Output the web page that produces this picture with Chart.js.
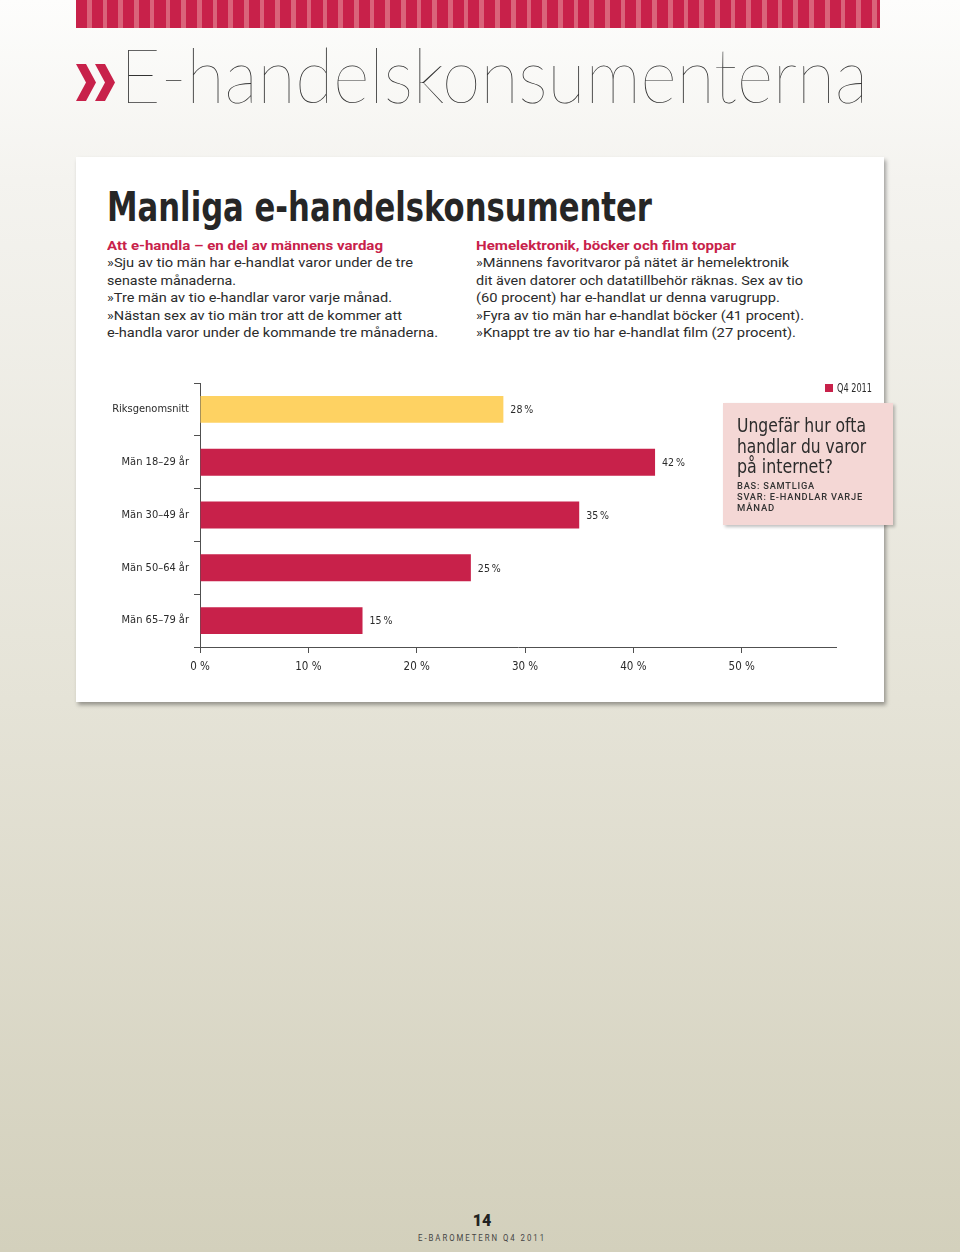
<!DOCTYPE html>
<html lang="sv">
<head>
<meta charset="utf-8">
<title>E-handelskonsumenterna</title>
<script src="https://cdn.jsdelivr.net/npm/chart.js@4.4.1/dist/chart.umd.min.js"></script>
<style>
html, body { margin: 0; padding: 0; }
body {
    width: 960px; height: 1252px; position: relative; overflow: hidden;
    background: linear-gradient(to bottom, #fdfdfc 0px, #f4f3ef 180px, #e5e3d7 700px, #d3d0bc 1252px);
    font-family: Roboto, 'Noto Sans', sans-serif; color: #2b2b2b;
}
.stripes {
    position: absolute; left: 76px; top: 0; width: 804px; height: 28px;
    background: repeating-linear-gradient(90deg, #c8214a 0 11px, #da637a 11px 15.7px);
}
.chev { position: absolute; left: 76px; top: 64px; }
.fit { display: inline-block; white-space: nowrap; transform-origin: 0 50%; }
.title {
    position: absolute; left: 120px; top: 35px;
    font-family: Lato, Roboto, sans-serif; font-weight: 100; font-size: 77px; line-height: 1;
    color: #333;
}
.card {
    position: absolute; left: 76px; top: 157px; width: 808px; height: 545px;
    background: #fff; box-shadow: 2px 3px 4px rgba(0,0,0,0.35);
}
.heading {
    position: absolute; left: 107px; top: 187px;
    font-family: 'Liberation Sans Narrow', 'DejaVu Sans Condensed', Roboto, sans-serif;
    font-weight: bold; font-size: 41px; line-height: 1; color: #262626;
}
.col { position: absolute; top: 237px; font-size: 13px; line-height: 17.4px; }
.col div { height: 17.4px; }
.col .sub { color: #c8214a; font-weight: bold; }
.legend { position: absolute; left: 825px; top: 383px; font-size: 12px; line-height: 11px;
    font-family: 'Liberation Sans Narrow', 'DejaVu Sans Condensed', Roboto, sans-serif; }
.legend i { position: absolute; left: 0; top: 1px; width: 8px; height: 8px; background: #c8214a; }
.legend span { position: absolute; left: 12px; top: 0; }
.chart-box { position: absolute; left: 100px; top: 370px; width: 780px; height: 320px; }
.pink {
    position: absolute; left: 723px; top: 403px; width: 170px; height: 122px;
    background: #f4d7d5; box-shadow: 2px 2px 3px rgba(0,0,0,0.25);
    box-sizing: border-box; padding: 12px 0 0 14px;
}
.pink .q { font-family: 'Liberation Sans Narrow', 'DejaVu Sans Condensed', Roboto, sans-serif;
    font-size: 20px; line-height: 20.5px; height: 20.5px; color: #2b2b2b; }
.pink .s { font-size: 9.5px; line-height: 11px; height: 11px; letter-spacing: 0.8px; font-weight: 500; color: #333; }
.pink .gap { height: 3px; }
.foot { position: absolute; left: 0; width: 964px; text-align: center; }
.foot .fit { transform-origin: 50% 50%; }
.page-no { top: 1211px; font-size: 16px; font-weight: 900; line-height: 20px; color: #222; }
.mag { top: 1232px; font-size: 9.5px; letter-spacing: 2.4px; line-height: 12px; color: #444; }
</style>
</head>
<body>
<div class="stripes"></div>
<svg class="chev" width="40" height="38" viewBox="0 0 40 38">
    <polygon points="0,0 10,0 20,18.5 10,37 0,37 10,18.5" fill="#c8214a"/>
    <polygon points="19,0 29,0 39,18.5 29,37 19,37 29,18.5" fill="#c8214a"/>
</svg>
<div class="title"><span class="fit" data-fit="748">E-handelskonsumenterna</span></div>

<div class="card"></div>
<div class="heading"><span class="fit" data-fit="545">Manliga e-handelskonsumenter</span></div>

<div class="col" style="left:107px">
    <div class="sub"><span class="fit" data-fit="276">Att e-handla – en del av männens vardag</span></div>
    <div><span class="fit" data-fit="306">»Sju av tio män har e-handlat varor under de tre</span></div>
    <div><span class="fit" data-fit="129">senaste månaderna.</span></div>
    <div><span class="fit" data-fit="285">»Tre män av tio e-handlar varor varje månad.</span></div>
    <div><span class="fit" data-fit="295">»Nästan sex av tio män tror att de kommer att</span></div>
    <div><span class="fit" data-fit="331">e-handla varor under de kommande tre månaderna.</span></div>
</div>
<div class="col" style="left:476px">
    <div class="sub"><span class="fit" data-fit="260">Hemelektronik, böcker och film toppar</span></div>
    <div><span class="fit" data-fit="313">»Männens favoritvaror på nätet är hemelektronik</span></div>
    <div><span class="fit" data-fit="327">dit även datorer och datatillbehör räknas. Sex av tio</span></div>
    <div><span class="fit" data-fit="304">(60 procent) har e-handlat ur denna varugrupp.</span></div>
    <div><span class="fit" data-fit="328">»Fyra av tio män har e-handlat böcker (41 procent).</span></div>
    <div><span class="fit" data-fit="320">»Knappt tre av tio har e-handlat film (27 procent).</span></div>
</div>

<div class="chart-box"><canvas id="chart"></canvas></div>
<div class="legend"><i></i><span class="fit" data-fit="35">Q4 2011</span></div>

<div class="pink">
    <div class="q"><span class="fit" data-fit="129">Ungefär hur ofta</span></div>
    <div class="q"><span class="fit" data-fit="129">handlar du varor</span></div>
    <div class="q"><span class="fit" data-fit="96">på internet?</span></div>
    <div class="gap"></div>
    <div class="s"><span class="fit" data-fit="78">BAS: SAMTLIGA</span></div>
    <div class="s"><span class="fit" data-fit="126">SVAR: E-HANDLAR VARJE</span></div>
    <div class="s"><span class="fit" data-fit="38">MÅNAD</span></div>
</div>

<div class="foot page-no">14</div>
<div class="foot mag"><span class="fit" data-fit="128">E-BAROMETERN Q4 2011</span></div>

<script>
// === Data ===
const categories = ['Riksgenomsnitt', 'Män 18–29 år', 'Män 30–49 år', 'Män 50–64 år', 'Män 65–79 år'];
const q4Values = [28, 42, 35, 25, 15];
const xTickValues = [0, 10, 20, 30, 40, 50];
const xTickLabels = ['0 %', '10 %', '20 %', '30 %', '40 %', '50 %'];

const RED = '#c8214a';
const YELLOW = '#fed262';
const AXIS = '#505050';
const FONT = "'Liberation Sans Narrow', 'DejaVu Sans Condensed', 'Roboto Condensed', Roboto, sans-serif";

// squeeze text lines to the widths of the original print
document.querySelectorAll('.fit').forEach(el => {
    const w = el.getBoundingClientRect().width;
    el.style.transform = `scaleX(${el.dataset.fit / w})`;
});

Chart.defaults.font.family = FONT;
Chart.defaults.color = '#2b2b2b';

// "28 %" etc. at the end of each bar
const valueLabels = {
    id: 'valueLabels',
    afterDatasetsDraw(chart) {
        const ctx = chart.ctx;
        const meta = chart.getDatasetMeta(0);
        ctx.save();
        ctx.font = `10.5px ${FONT}`;
        ctx.fillStyle = '#2b2b2b';
        ctx.textBaseline = 'middle';
        meta.data.forEach((bar, i) => {
            ctx.fillText(q4Values[i] + '\u2009%', bar.x + 7, bar.y + 1);
        });
        ctx.restore();
    }
};

new Chart(document.getElementById('chart'), {
    type: 'bar',
    data: {
        labels: categories,
        datasets: [{
            label: 'Q4 2011',
            data: q4Values,
            backgroundColor: c => c.dataIndex === 0 ? YELLOW : RED,
            barPercentage: 0.51,
            categoryPercentage: 1
        }]
    },
    options: {
        indexAxis: 'y',
        responsive: true,
        maintainAspectRatio: false,
        animation: false,
        layout: { padding: { top: 13, right: 44, left: 0, bottom: 0 } },
        plugins: { legend: { display: false }, tooltip: { enabled: false } },
        scales: {
            x: {
                min: 0,
                max: 58.7,
                afterFit: s => { s.height = 43; },
                ticks: {
                    stepSize: 10,
                    includeBounds: false,
                    maxRotation: 0,
                    padding: 7,
                    font: { size: 11.5 },
                    callback: v => xTickLabels[xTickValues.indexOf(v)] ?? ''
                },
                grid: { drawOnChartArea: false, tickLength: 6, color: AXIS },
                border: { color: AXIS }
            },
            y: {
                afterFit: s => { s.width = 100; },
                ticks: { padding: 5, font: { size: 11 } },
                grid: { drawOnChartArea: false, tickLength: 6, color: AXIS, offset: true },
                border: { color: AXIS }
            }
        }
    },
    plugins: [valueLabels]
});
</script>
</body>
</html>
